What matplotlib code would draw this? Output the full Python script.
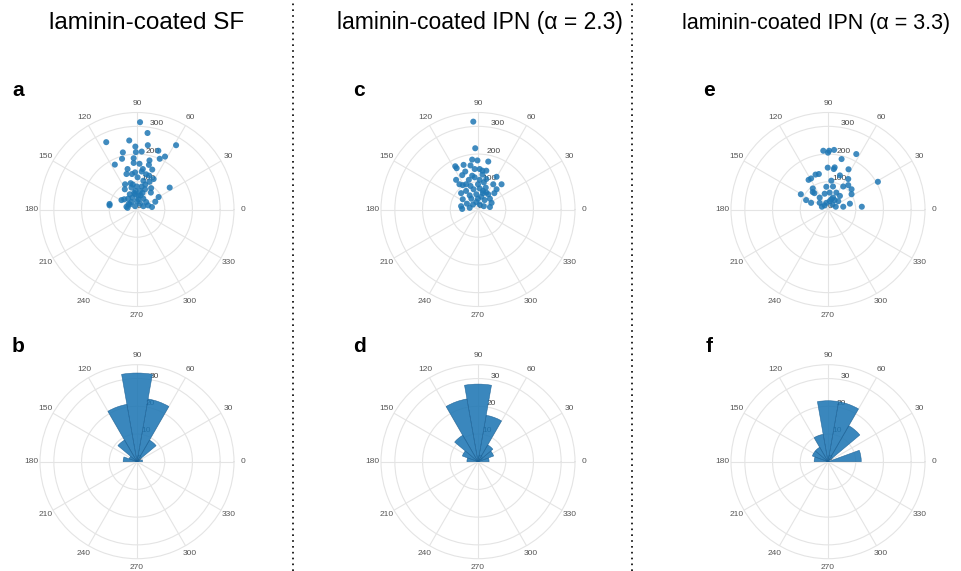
import numpy as np
import matplotlib
matplotlib.use("Agg")
import matplotlib.pyplot as plt
from matplotlib.lines import Line2D

plt.rcParams['font.family'] = ['Liberation Sans', 'DejaVu Sans']

# Cell displacement end points (x, y) in µm
sf_dx = [11, 38, -111, -28, 141, -6, 39, -51, 17, -4, 77, -54, 101, -12, 45, 82,
         -80, -12, 9, 43, -34, 21, 55, -7, 17, -38, -18, 33, 2, 44, -43, -23,
         23, 45, -20, -1, 17, -44, -5, 11, 29, 51, 118, -26, -7, 13, 50, -46,
         -32, -16, 5, 23, 78, -56, -20, 33, 66, -99, -38, -7, 23, -34, 54, -26,
         11, -10, 5, 20, -30, 0, 40, -15, 30, -99, 60]
sf_dy = [315, 276, 243, 249, 232, 227, 232, 206, 209, 207, 212, 183, 191, 185, 177, 183,
         162, 168, 165, 161, 146, 146, 144, 134, 137, 128, 128, 127, 116, 122, 91, 95,
         104, 100, 79, 83, 83, 73, 67, 67, 73, 77, 79, 55, 55, 51, 61, 37,
         39, 43, 37, 39, 45, 34, 27, 27, 28, 15, 10, 12, 12, 6, 9, 18,
         21, 60, 50, 60, 20, 30, 15, 90, 90, 20, 110]

ipn23_dx = [-17, -10, -21, -2, 37, -82, -52, -27, -77, 6, -46, 16, 30, -21, -57, 16,
            67, -79, -33, -12, 6, 30, -55, -27, 0, 21, 55, 85, -43, -16, 6, 28,
            59, -61, -30, -6, 18, 37, -55, -24, 0, 24, 43, -61, -40, -18, 6, 21,
            43, -57, -30, -6, 12, -43, -67, -12, 67, 49, 30, 18]
ipn23_dy = [317, 221, 180, 177, 173, 156, 161, 159, 149, 146, 137, 140, 140, 122, 124, 126,
            118, 107, 107, 116, 107, 110, 88, 85, 91, 98, 91, 91, 67, 73, 76, 79,
            59, 59, 51, 55, 59, 55, 37, 39, 39, 34, 39, 12, 21, 18, 18, 12,
            9, 2, 6, 27, 46, 91, 91, 146, 73, 24, 61, 67]

ipn33_dx = [-17, 0, 4, 22, 49, 102, -1, 21, 24, 74, -33, -45, -61, -70, 43, 12,
            73, 180, -55, -55, -6, 18, 55, 73, 85, -98, -12, 6, 30, 85, -79, -61,
            -30, -30, 12, 24, 37, 79, 122, -22, -12, 16, 28, 55, -49, 6, 18, -6, 43]
ipn33_dy = [212, 205, 212, 215, 182, 200, 151, 146, 152, 145, 128, 126, 112, 107, 123, 104,
            110, 100, 76, 63, 82, 83, 83, 88, 73, 55, 57, 61, 61, 55, 34, 24,
            43, 24, 37, 34, 30, 21, 10, 10, 15, 18, 10, 10, 59, 30, 43, 24, 49]

# Direction histograms, 20° bins from 0° to 180°
bin_edges = np.arange(0, 181, 20)
sf_counts = [2, 1, 9, 23, 32, 21, 9, 3, 5]
ipn23_counts = [4, 6, 7, 17, 28, 23, 11, 6, 4]
ipn33_counts = [12, 0, 15, 22, 22, 10, 6, 6, 5]

titles = ["laminin-coated SF", "laminin-coated IPN (α = 2.3)", "laminin-coated IPN (α = 3.3)"]
title_x = [147, 480, 816]
title_size = [17.5, 16.5, 15.5]
letters = [("a", "b"), ("c", "d"), ("e", "f")]

W, H = 961, 571
RADIUS = 97
col_x = [137, 478, 828]
row_y = [209.5, 461.7]
GRID = '#e4e4e4'
BLUE = '#1f77b4'


def polar_axes(fig, cx, cy):
    rect = [(cx - RADIUS) / W, 1 - (cy + RADIUS) / H, 2 * RADIUS / W, 2 * RADIUS / H]
    return fig.add_axes(rect, projection='polar')


def style_polar(ax, rmax, rticks):
    angles = np.arange(0, 360, 30)
    ax.set_thetagrids(angles, labels=[str(a) for a in angles], fontsize=6, color='#555555')
    ax.set_ylim(0, rmax)
    ax.set_rticks(rticks)
    ax.set_yticklabels([str(t) for t in rticks], fontsize=6, color='#444444')
    ax.set_rlabel_position(81)
    ax.tick_params(axis='x', pad=-4)
    ax.grid(True, color=GRID, lw=0.8)
    ax.spines['polar'].set_color(GRID)
    ax.spines['polar'].set_linewidth(0.8)
    ax.set_facecolor('white')


fig = plt.figure(figsize=(W / 100, H / 100), dpi=100)

scatter_sets = [(sf_dx, sf_dy), (ipn23_dx, ipn23_dy), (ipn33_dx, ipn33_dy)]
count_sets = [sf_counts, ipn23_counts, ipn33_counts]

for i in range(3):
    dx, dy = np.array(scatter_sets[i], dtype=float)
    theta = np.arctan2(dy, dx)
    dist = np.hypot(dx, dy)

    ax_top = polar_axes(fig, col_x[i], row_y[0])
    style_polar(ax_top, 350, [0, 100, 200, 300])
    ax_top.scatter(theta, dist, s=19, color=BLUE, alpha=0.85, edgecolors='none', zorder=3)

    ax_bot = polar_axes(fig, col_x[i], row_y[1])
    style_polar(ax_bot, 35, [0, 10, 20, 30])
    left = np.deg2rad(bin_edges[:-1])
    width = np.deg2rad(np.diff(bin_edges))
    ax_bot.bar(left, count_sets[i], width=width, align='edge', color=BLUE, alpha=0.88,
               edgecolor='#1a5f94', linewidth=0.4, zorder=3)

    fig.text(title_x[i] / W, 1 - 23 / H, titles[i], ha='center', va='center',
             fontsize=title_size[i])
    fig.text((col_x[i] - 119) / W, 1 - 90 / H, letters[i][0], ha='center', va='center',
             fontsize=15, fontweight='bold')
    fig.text((col_x[i] - 119) / W, 1 - 346 / H, letters[i][1], ha='center', va='center',
             fontsize=15, fontweight='bold')

# dotted separators between the three conditions
for x in (293, 632):
    fig.add_artist(Line2D([x / W, x / W], [0, 0.995], transform=fig.transFigure,
                          color='black', ls=(0, (1, 2.5)), lw=1.2))

fig.savefig("out.png", dpi=100, facecolor='white')
